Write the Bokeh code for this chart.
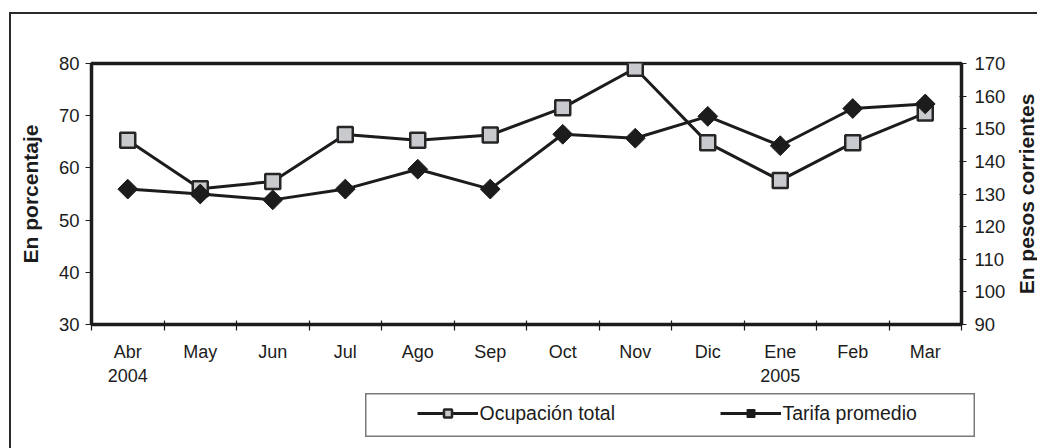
from bokeh.plotting import figure
from bokeh.models import Range1d, LinearAxis, FixedTicker, Legend, LegendItem
from bokeh.layouts import column, row
from bokeh.embed import file_html
from bokeh.resources import INLINE
import numpy as np

months = ["Abr\n2004", "May", "Jun", "Jul", "Ago", "Sep", "Oct", "Nov", "Dic",
          "Ene\n2005", "Feb", "Mar"]
ocupacion = [65.3, 56.0, 57.4, 66.4, 65.3, 66.3, 71.5, 79.1, 64.8, 57.6, 64.8, 70.5]
tarifa = [131.5, 130.0, 128.2, 131.5, 137.6, 131.5, 148.3, 147.1, 153.8, 144.8, 156.2, 157.6]
left_ticks = [30, 40, 50, 60, 70, 80]
right_ticks = [90, 100, 110, 120, 130, 140, 150, 160, 170]

FONT = "Liberation Sans"
DARK = "#1c1c1c"
SQ_FILL = "#c9cacd"

x = list(range(len(months)))

p = figure(width=1000, height=378, output_backend="svg", toolbar_location=None,
           x_range=Range1d(-0.5, 11.5), y_range=Range1d(30, 80),
           min_border_left=80, min_border_right=50, min_border_top=49,
           min_border_bottom=68)
p.extra_y_ranges = {"tarifa": Range1d(90, 170)}
p.xgrid.visible = False
p.ygrid.visible = False
p.outline_line_color = DARK
p.outline_line_width = 3.5
p.background_fill_color = "white"
p.border_fill_color = "white"

# x axis
xa = p.xaxis[0]
xa.ticker = FixedTicker(ticks=x, minor_ticks=[i - 0.5 for i in range(13)])
xa.major_label_overrides = {i: m for i, m in enumerate(months)}
xa.major_tick_in = 0
xa.major_tick_out = 0
xa.minor_tick_in = 4
xa.minor_tick_out = 6
xa.minor_tick_line_color = DARK
xa.minor_tick_line_width = 1.2
xa.axis_line_color = DARK
xa.axis_line_width = 3
xa.major_label_standoff = 11
xa.major_label_text_font = FONT
xa.major_label_text_font_size = "18px"
xa.major_label_text_color = DARK

# left axis
ya = p.yaxis[0]
ya.ticker = FixedTicker(ticks=left_ticks)
ya.major_tick_in = 0
ya.major_tick_out = 6
ya.major_tick_line_color = DARK
ya.major_tick_line_width = 1.2
ya.minor_tick_line_color = None
ya.axis_line_color = DARK
ya.axis_line_width = 3
ya.major_label_standoff = 6
ya.major_label_text_font = FONT
ya.major_label_text_font_size = "18.5px"
ya.major_label_text_color = DARK
ya.axis_label = "En porcentaje"
ya.axis_label_text_font = FONT
ya.axis_label_text_font_size = "21px"
ya.axis_label_text_font_style = "bold"
ya.axis_label_text_color = DARK
ya.axis_label_standoff = 14

# right axis (ticks + numbers)
ra = LinearAxis(y_range_name="tarifa", ticker=FixedTicker(ticks=right_ticks))
ra.major_tick_in = 2
ra.major_tick_out = 5
ra.major_tick_line_color = DARK
ra.major_tick_line_width = 1.2
ra.minor_tick_line_color = None
ra.axis_line_color = DARK
ra.axis_line_width = 3
ra.major_label_standoff = 8
ra.major_label_text_font = FONT
ra.major_label_text_font_size = "18.5px"
ra.major_label_text_color = DARK
p.add_layout(ra, "right")

# series
p.line(x, ocupacion, line_color=DARK, line_width=3)
p.scatter(x, ocupacion, marker="square", size=15, fill_color=SQ_FILL,
          line_color="#262626", line_width=2.5)
p.line(x, tarifa, y_range_name="tarifa", line_color=DARK, line_width=3)
p.scatter(x, tarifa, y_range_name="tarifa", marker="square", angle=np.pi / 4,
          size=14, fill_color=DARK, line_color=DARK, line_width=1)

# right-hand axis title (separate narrow panel so it reads bottom-to-top, centred)
rf = figure(width=26, height=378, output_backend="svg", toolbar_location=None,
            x_range=Range1d(0, 1), y_range=Range1d(90, 170), x_axis_type=None,
            min_border_left=24, min_border_right=0, min_border_top=49,
            min_border_bottom=68)
rf.xgrid.visible = False
rf.ygrid.visible = False
rf.outline_line_color = None
rf.border_fill_color = "white"
ry = rf.yaxis[0]
ry.ticker = FixedTicker(ticks=[])
ry.axis_line_color = None
ry.major_tick_line_color = None
ry.minor_tick_line_color = None
ry.major_label_text_font_size = "0px"
ry.axis_label = "En pesos corrientes"
ry.axis_label_text_font = FONT
ry.axis_label_text_font_size = "21px"
ry.axis_label_text_font_style = "bold"
ry.axis_label_text_color = DARK
ry.axis_label_standoff = 0

# legend panel (its frame outline is the legend box)
lf = figure(width=610, height=44, output_backend="svg", toolbar_location=None,
            x_range=Range1d(-0.5, 0.5), y_range=Range1d(500, 501),
            x_axis_type=None, y_axis_type=None, min_border=0)
lf.extra_y_ranges = {"tarifa": Range1d(500, 501)}
lf.xgrid.visible = False
lf.ygrid.visible = False
lf.outline_line_color = "#7a7a7a"
lf.outline_line_width = 2
lf.background_fill_color = "white"
lf.border_fill_color = "white"
ll1 = lf.line(x, ocupacion, line_color=DARK, line_width=3)
ls1 = lf.scatter(x, ocupacion, marker="square", size=15, fill_color=SQ_FILL,
                 line_color="#262626", line_width=2.5)
ll2 = lf.line(x, tarifa, y_range_name="tarifa", line_color=DARK, line_width=3)
ls2 = lf.scatter(x, tarifa, y_range_name="tarifa", marker="square", angle=np.pi / 4,
                 size=14, fill_color=DARK, line_color=DARK, line_width=1)

legend = Legend(items=[LegendItem(label="Ocupación total", renderers=[ll1, ls1]),
                       LegendItem(label="Tarifa promedio", renderers=[ll2, ls2])],
                orientation="horizontal", location=(52, 12),
                border_line_color=None, background_fill_alpha=0,
                padding=0, margin=0, spacing=90, glyph_width=61,
                glyph_height=20, label_height=20, label_width=150,
                label_standoff=2, label_text_font=FONT,
                label_text_font_size="19.5px", label_text_color=DARK)
lf.add_layout(legend, "center")

if "frame_align" in p.properties():
    for fig in (p, rf, lf):
        fig.frame_align = False
    lf.styles = {"margin-left": "354px", "margin-top": "1px", "margin-bottom": "30px"}
else:
    lf.width = 766
    lf.styles = {"margin-left": "274px", "margin-top": "1px", "margin-bottom": "30px"}

col = column(row(p, rf, spacing=0), lf, spacing=0)
col.styles = {"border-left": "2.5px solid #2a2a2a", "border-top": "2.5px solid #2a2a2a",
              "margin-left": "8.5px", "margin-top": "11.5px"}

open("out.html", "w").write(file_html(col, INLINE))
